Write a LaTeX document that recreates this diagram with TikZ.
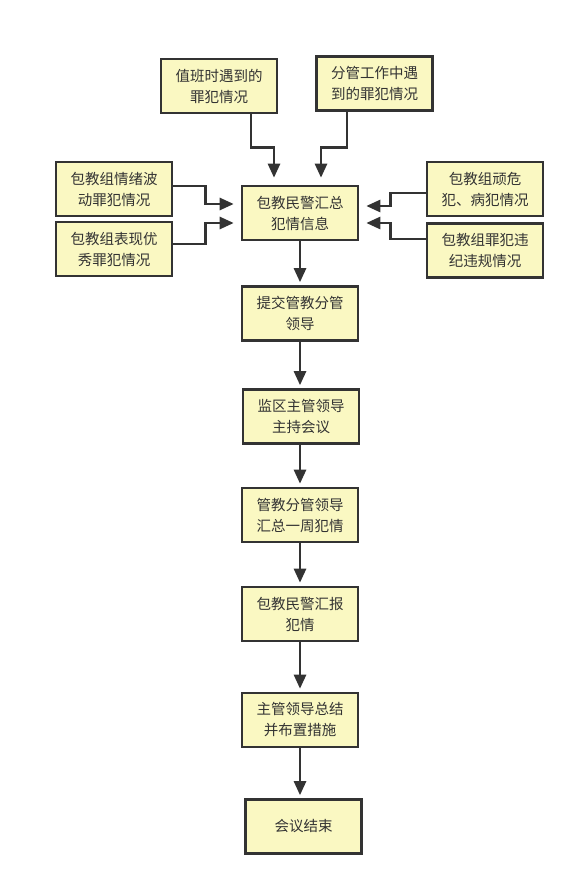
\documentclass[tikz,border=0pt]{standalone}
\usepackage{fontspec}
\setmainfont{Noto Sans CJK SC}
\usepackage{xcolor}
\usetikzlibrary{arrows.meta}
\definecolor{boxfill}{HTML}{FAF8C2}
\definecolor{ink}{HTML}{333333}

\begin{document}
\begin{tikzpicture}[x=1pt, y=-1pt, line width=2.6pt,
    box/.style={draw=ink, fill=boxfill, minimum width=116pt, minimum height=54pt, inner sep=0pt,
        align=center, text=ink, font=\fontsize{14.5}{21}\selectfont},
    flow/.style={draw=ink, -{Triangle[length=14pt, width=12pt]}, shorten >=3pt},
    feed/.style={flow, shorten >=7pt}]
    \useasboundingbox[fill=white] (0, 0) rectangle (580, 890);

    % draw source boxes
    \node[box] (duty) at (219, 86) {值班时遇到的\\罪犯情况};
    \node[box] (divide) at (374.5, 83.5) {分管工作中遇\\到的罪犯情况};
    \node[box] (mood) at (114, 189) {包教组情绪波\\动罪犯情况};
    \node[box] (excel) at (114, 249) {包教组表现优\\秀罪犯情况};
    \node[box] (danger) at (485, 189) {包教组顽危\\犯、病犯情况};
    \node[box] (violate) at (485, 250.5) {包教组罪犯违\\纪违规情况};

    % draw main chain boxes
    \node[box] (collect) at (300, 213) {包教民警汇总\\犯情信息};
    \node[box] (submit) at (300, 313.5) {提交管教分管\\领导};
    \node[box] (meeting) at (301, 416.5) {监区主管领导\\主持会议};
    \node[box] (summary) at (300, 515) {管教分管领导\\汇总一周犯情};
    \node[box] (report) at (300, 614) {包教民警汇报\\犯情};
    \node[box] (arrange) at (300, 720) {主管领导总结\\并布置措施};
    \node[box] (finish) at (303.5, 826.5) {会议结束};

    % draw elbow arrows into the collecting box
    \draw[feed] ([xshift=32pt]duty.south) -- ++(0, 33) -| ([xshift=-26pt]collect.north);
    \draw[feed] ([xshift=-27.5pt]divide.south) -- ++(0, 36) -| ([xshift=21pt]collect.north);
    \draw[feed] ([yshift=3pt]mood.east) -- ++(32, 0) |- ([yshift=9pt]collect.west);
    \draw[feed] ([yshift=5pt]excel.east) -- ++(32, 0) |- ([yshift=-10pt]collect.west);
    \draw[feed] ([yshift=-4pt]danger.west) -- ++(-35, 0) |- ([yshift=7pt]collect.east);
    \draw[feed] ([yshift=11.5pt]violate.west) -- ++(-35, 0) |- ([yshift=-10pt]collect.east);

    % draw straight arrows down the chain
    \draw[flow] (collect.south) -- (collect.south |- submit.north);
    \draw[flow] (submit.south) -- (submit.south |- meeting.north);
    \draw[flow] (meeting.south -| submit.south) -- (submit.south |- summary.north);
    \draw[flow] (summary.south) -- (summary.south |- report.north);
    \draw[flow] (report.south) -- (report.south |- arrange.north);
    \draw[flow] (arrange.south) -- (arrange.south |- finish.north);

\end{tikzpicture}
\end{document}
